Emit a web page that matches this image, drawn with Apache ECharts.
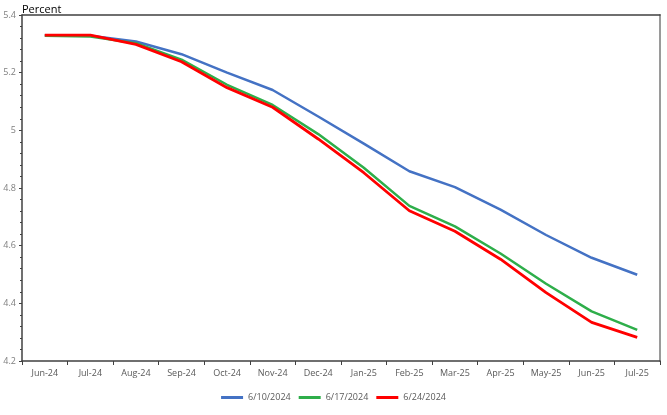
<!DOCTYPE html>
<html>
<head>
<meta charset="utf-8">
<script src="https://cdn.jsdelivr.net/npm/echarts@6/dist/echarts.min.js"></script>
<style>
html,body{margin:0;padding:0;background:#fff;}
#chart{width:667px;height:415px;}
</style>
</head>
<body>
<div id="chart"></div>
<script>
const categories = ["Jun-24","Jul-24","Aug-24","Sep-24","Oct-24","Nov-24","Dec-24","Jan-25","Feb-25","Mar-25","Apr-25","May-25","Jun-25","Jul-25"];
const seriesNames = ["6/10/2024","6/17/2024","6/24/2024"];
const s0610 = [5.330,5.328,5.308,5.264,5.200,5.140,5.048,4.954,4.858,4.803,4.725,4.637,4.558,4.499];
const s0617 = [5.328,5.325,5.302,5.245,5.158,5.088,4.987,4.870,4.738,4.667,4.573,4.468,4.372,4.308];
const s0624 = [5.330,5.330,5.298,5.238,5.148,5.080,4.970,4.853,4.721,4.650,4.553,4.437,4.334,4.282];
const yTicks = {min:4.2, max:5.4, interval:0.2};
const colors = ["#4472C4","#2EAE4A","#FF0000"];

const font = "Open Sans";
const chart = echarts.init(document.getElementById('chart'));
chart.setOption({
  animation:false,
  textStyle:{fontFamily:font},
  title:{text:"Percent", left:17, top:-1, textStyle:{fontSize:11, fontWeight:'normal', color:'#000', fontFamily:font}},
  grid:{left:22, right:7, top:15, bottom:54},
  legend:{
    bottom:8, left:'center', itemWidth:22, itemHeight:3, itemGap:8,
    icon:'rect',
    textStyle:{fontSize:9, color:'#595959', fontFamily:font},
    data:seriesNames
  },
  xAxis:[{
    type:'category', data:categories, boundaryGap:true,
    axisLine:{lineStyle:{color:'#404040', width:1.5}},
    axisTick:{show:true, inside:false, length:4, lineStyle:{color:'#404040'}},
    axisLabel:{fontSize:9, color:'#595959', margin:8, interval:0, fontFamily:font},
    splitLine:{show:false}
  },{
    type:'category', data:categories, position:'top',
    axisLine:{show:true, lineStyle:{color:'#404040', width:1.5}},
    axisTick:{show:false}, axisLabel:{show:false}
  }],
  yAxis:[{
    type:'value', min:yTicks.min, max:yTicks.max, interval:yTicks.interval,
    axisLine:{show:true, lineStyle:{color:'#404040', width:1.5}},
    axisTick:{show:true, length:3, lineStyle:{color:'#404040'}},
    minorTick:{show:true, splitNumber:5, length:2, lineStyle:{color:'#404040'}},
    axisLabel:{fontSize:9, color:'#7f7f7f', margin:6, fontFamily:font},
    splitLine:{show:false}
  },{
    type:'value', min:yTicks.min, max:yTicks.max, interval:yTicks.interval, position:'right',
    axisLine:{show:true, lineStyle:{color:'#9a9a9a', width:2}},
    axisTick:{show:false}, axisLabel:{show:false}, splitLine:{show:false}
  }],
  series:[
    {name:seriesNames[0], type:'line', data:s0610, symbol:'none', color:colors[0], lineStyle:{width:2.5, color:colors[0]}, z:3},
    {name:seriesNames[1], type:'line', data:s0617, symbol:'none', color:colors[1], lineStyle:{width:2.5, color:colors[1]}, z:4},
    {name:seriesNames[2], type:'line', data:s0624, symbol:'none', color:colors[2], lineStyle:{width:2.8, color:colors[2]}, z:5}
  ]
});
</script>
</body>
</html>
